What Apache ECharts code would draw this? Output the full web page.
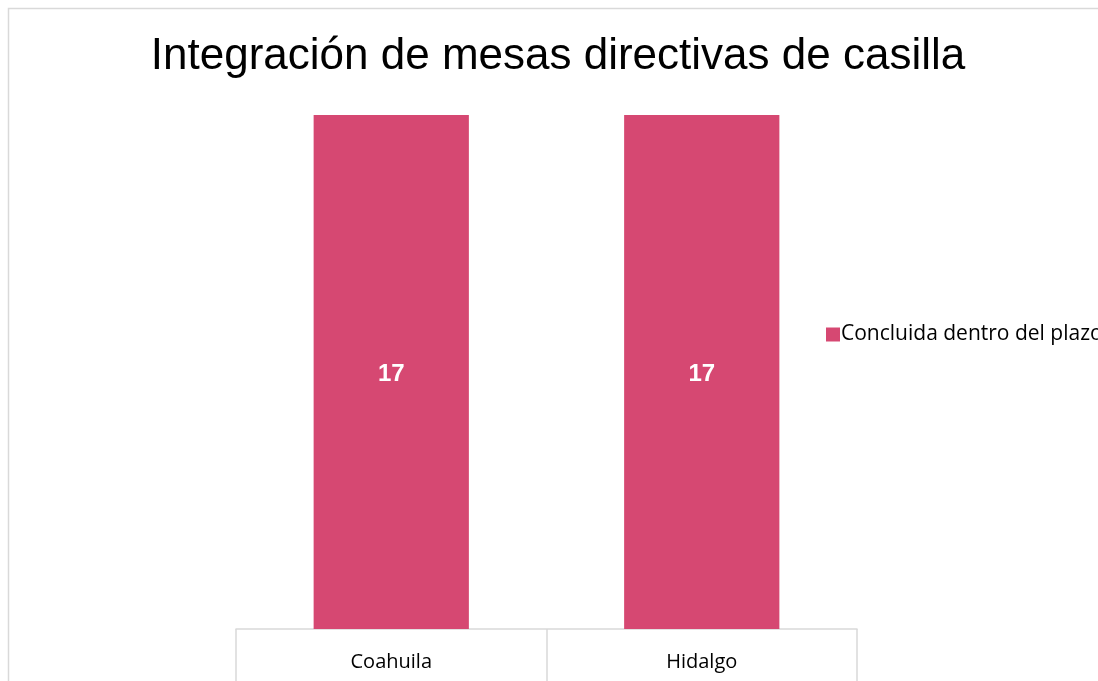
<!DOCTYPE html>
<html>
<head>
<meta charset="utf-8">
<script src="https://cdn.jsdelivr.net/npm/echarts@6/dist/echarts.min.js"></script>
<style>
  html, body { margin: 0; padding: 0; background: #fff; }
  #chart { width: 1098px; height: 681px; }
</style>
</head>
<body>
<div id="chart"></div>
<script>
var categories = ["Coahuila", "Hidalgo"];
var seriesName = "Concluida dentro del plazo";
var values = [17, 17];

var chart = echarts.init(document.getElementById("chart"));

var option = {
  animation: false,
  graphic: [
    {
      // marco exterior del gráfico
      type: "rect",
      shape: { x: 8.5, y: 8.5, width: 1200, height: 800 },
      style: { fill: "none", stroke: "#d9d9d9", lineWidth: 1.5 },
      silent: true
    }
  ],
  title: {
    text: "Integración de mesas directivas de casilla",
    left: 553,
    textAlign: "center",
    top: 30,
    textStyle: {
      fontFamily: "Liberation Sans, Arial",
      fontSize: 44,
      fontWeight: "normal",
      color: "#000"
    }
  },
  legend: {
    left: 821,
    top: 319,
    orient: "vertical",
    itemWidth: 14,
    itemHeight: 14,
    itemGap: 6,
    icon: "rect",
    textStyle: {
      fontFamily: "Open Sans",
      fontSize: 21,
      color: "#000",
      padding: [0, 0, 0, -4]
    },
    data: [seriesName]
  },
  grid: {
    left: 236,
    right: 241,
    top: 115,
    bottom: 52
  },
  xAxis: {
    type: "category",
    data: categories,
    axisLine: { show: true, lineStyle: { color: "#d9d9d9", width: 1.5 } },
    axisTick: { show: true, length: 52, lineStyle: { color: "#d9d9d9", width: 1.5 } },
    axisLabel: {
      margin: 23,
      fontFamily: "Open Sans",
      fontSize: 20,
      color: "#000"
    }
  },
  yAxis: {
    type: "value",
    min: 0,
    max: 17,
    show: false,
    splitLine: { show: false }
  },
  series: [
    {
      name: seriesName,
      type: "bar",
      data: values,
      barWidth: "50%",
      itemStyle: { color: "#d64872" },
      label: {
        show: true,
        position: "inside",
        offset: [0, 2],
        color: "#fff",
        fontFamily: "Liberation Sans, Arial",
        fontWeight: "bold",
        fontSize: 24
      }
    }
  ]
};

chart.setOption(option);
</script>
</body>
</html>
